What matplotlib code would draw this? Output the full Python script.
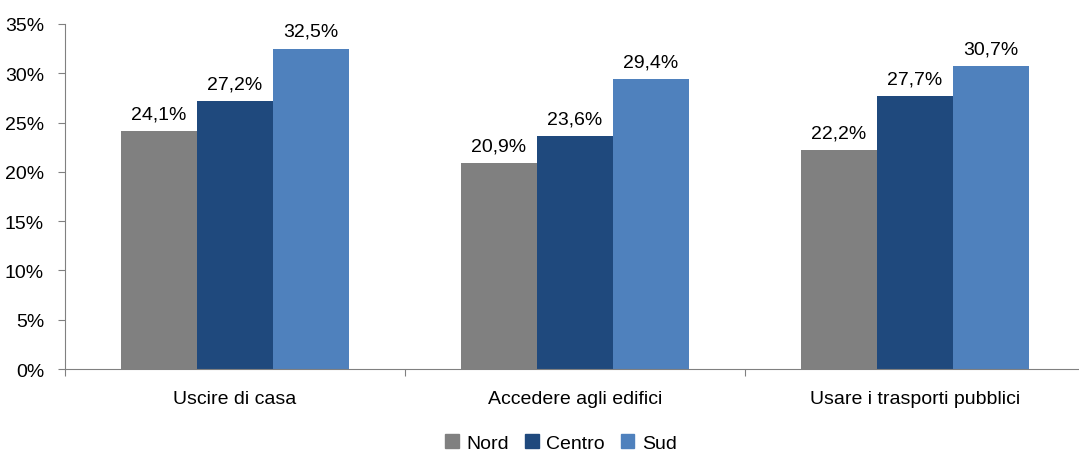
import numpy as np
import matplotlib.pyplot as plt
from matplotlib.patches import Patch

plt.rcParams['font.family'] = ['Liberation Sans', 'DejaVu Sans']

categorie = ["Uscire di casa", "Accedere agli edifici", "Usare i trasporti pubblici"]
serie = ["Nord", "Centro", "Sud"]
nord = [24.1, 20.9, 22.2]
centro = [27.2, 23.6, 27.7]
sud = [32.5, 29.4, 30.7]
colori = ["#808080", "#1F497D", "#4F81BD"]

fig = plt.figure(figsize=(10.79, 4.52), dpi=100)
ax = fig.add_axes([0.0602, 0.1814, 0.9453, 0.7633])

x = np.arange(len(categorie))
w = 0.2235
for i, (vals, col) in enumerate(zip([nord, centro, sud], colori)):
    pos = x + (i - 1) * w
    ax.bar(pos, vals, width=w, color=col, zorder=2)
    for p, v in zip(pos, vals):
        ax.text(p, v + 0.9, f"{v:.1f}%".replace(".", ","), ha="center", va="bottom", fontsize=14)

ax.set_xlim(-0.5, 2.5)
ax.set_ylim(0, 35)
ax.set_yticks(np.arange(0, 36, 5))
ax.set_yticklabels([f"{t}%" for t in range(0, 36, 5)], fontsize=14)

ax.set_xticks([-0.5, 0.5, 1.5, 2.5])
ax.set_xticklabels([])
ax.set_xticks(x, minor=True)
ax.set_xticklabels(categorie, minor=True, fontsize=14)
ax.tick_params(axis="x", which="minor", length=0, pad=15)
ax.tick_params(axis="x", which="major", length=5, color="#808080")
ax.tick_params(axis="y", length=5, color="#808080", pad=10)

for s in ["top", "right"]:
    ax.spines[s].set_visible(False)
for s in ["left", "bottom"]:
    ax.spines[s].set_color("#808080")

handles = [Patch(color=c, label=l) for c, l in zip(colori, serie)]
fig.legend(handles=handles, loc="lower center", bbox_to_anchor=(0.52, -0.04), ncol=3,
           frameon=False, fontsize=14, handlelength=0.7, handleheight=0.7,
           handletextpad=0.4, columnspacing=0.8)

fig.savefig("out.png", dpi=100)
